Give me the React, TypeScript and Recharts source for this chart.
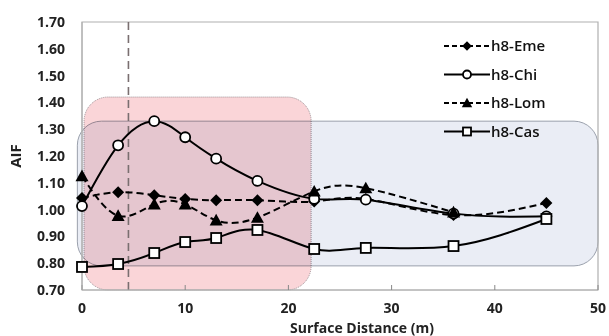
import {
  LineChart,
  Line,
  XAxis,
  YAxis,
  ReferenceArea,
  ReferenceLine,
} from "recharts"

const distances = [0, 3.5, 7, 10, 13, 17, 22.5, 27.5, 36, 45]
const emeValues = [1.043, 1.065, 1.054, 1.04, 1.035, 1.035, 1.03, 1.04, 0.98, 1.025]
const chiValues = [1.013, 1.24, 1.33, 1.27, 1.19, 1.107, 1.04, 1.037, 0.985, 0.975]
const lomValues = [1.125, 0.977, 1.02, 1.02, 0.96, 0.97, 1.068, 1.08, 0.99, null]
const casValues = [0.786, 0.797, 0.838, 0.879, 0.894, 0.924, 0.853, 0.857, 0.864, 0.965]

const xTicks = [0, 10, 20, 30, 40, 50]
const yTicks = [0.7, 0.8, 0.9, 1.0, 1.1, 1.2, 1.3, 1.4, 1.5, 1.6, 1.7]

const chartData = distances.map((d, i) => ({
  x: d,
  eme: emeValues[i],
  chi: chiValues[i],
  lom: lomValues[i],
  cas: casValues[i],
}))

type MarkerKind = "diamond" | "circle" | "triangle" | "square"

const series: { key: string; name: string; marker: MarkerKind; dashed: boolean }[] = [
  { key: "eme", name: "h8-Eme", marker: "diamond", dashed: true },
  { key: "chi", name: "h8-Chi", marker: "circle", dashed: false },
  { key: "lom", name: "h8-Lom", marker: "triangle", dashed: true },
  { key: "cas", name: "h8-Cas", marker: "square", dashed: false },
]

const FONT = "'Open Sans', 'Liberation Sans', sans-serif"

function Marker({ kind, cx, cy, s = 1 }: { kind: MarkerKind; cx: number; cy: number; s?: number }) {
  if (cx == null || cy == null || isNaN(cx) || isNaN(cy)) return null
  if (kind === "diamond") {
    const r = 6 * s
    return (
      <polygon
        points={`${cx},${cy - r} ${cx + r},${cy} ${cx},${cy + r} ${cx - r},${cy}`}
        fill="#000"
      />
    )
  }
  if (kind === "triangle") {
    const r = 6.5 * s
    return (
      <polygon
        points={`${cx},${cy - r} ${cx + r},${cy + r * 0.8} ${cx - r},${cy + r * 0.8}`}
        fill="#000"
      />
    )
  }
  if (kind === "circle") {
    return <circle cx={cx} cy={cy} r={5 * s} fill="#fff" stroke="#000" strokeWidth={1.8} />
  }
  const h = 5 * s
  return (
    <rect x={cx - h} y={cy - h} width={h * 2} height={h * 2} fill="#fff" stroke="#000" strokeWidth={1.8} />
  )
}

// legend drawn as an overlay so it doesn't eat plot width
function LegendBox() {
  return (
    <svg width={130} height={120} style={{ position: "absolute", left: 442, top: 36 }}>
      {series.map((s, i) => {
        const y = 10 + i * 28.5
        return (
          <g key={s.key}>
            <line
              x1={2}
              x2={48}
              y1={y}
              y2={y}
              stroke="#000"
              strokeWidth={2}
              strokeDasharray={s.dashed ? "5 3" : undefined}
            />
            <Marker kind={s.marker} cx={25} cy={y} s={0.8} />
            <text x={49} y={y + 5} fontSize={15} fontFamily={FONT} fontWeight={600} fill="#111">
              {s.name}
            </text>
          </g>
        )
      })}
    </svg>
  )
}

export default function App() {
  return (
    <div style={{ position: "absolute", left: 0, top: 0, width: 609, height: 336, background: "#fff" }}>
      <LineChart
        width={609}
        height={336}
        data={chartData}
        margin={{ top: 22, right: 11, left: 0, bottom: 0 }}
      >
        <ReferenceArea
          x1={0.2}
          x2={22.2}
          y1={0.7}
          y2={1.42}
          ifOverflow="visible"
          fill="#fad5d8"
          fillOpacity={1}
          stroke="#9c8f94"
          strokeWidth={1}
          strokeDasharray="1 1"
          radius={24}
        />
        <ReferenceArea
          x1={-0.45}
          x2={50}
          y1={0.79}
          y2={1.33}
          ifOverflow="visible"
          fill="#eaedf5"
          fillOpacity={1}
          stroke="#9aa0ac"
          strokeWidth={1}
          radius={24}
          style={{ mixBlendMode: "multiply" }}
        />
        <ReferenceArea
          x1={0}
          x2={50}
          y1={0.7}
          y2={1.7}
          fill="none"
          stroke="#b0b0b0"
          strokeWidth={1.2}
        />
        <ReferenceLine x={4.5} stroke="#7a6f70" strokeWidth={1.6} strokeDasharray="8 5" />
        <XAxis
          dataKey="x"
          type="number"
          domain={[0, 50]}
          ticks={xTicks}
          height={46}
          axisLine={{ stroke: "#b0b0b0" }}
          tickLine={{ stroke: "#888" }}
          tickSize={-5}
          tickMargin={18}
          tick={{ fontSize: 14, fontFamily: FONT, fontWeight: 700, fill: "#222" }}
          label={{
            value: "Surface Distance (m)",
            position: "insideBottom",
            offset: 3,
            dx: 22,
            style: { fontSize: 14, fontFamily: FONT, fontWeight: 700, fill: "#222" },
          }}
        />
        <YAxis
          type="number"
          domain={[0.7, 1.7]}
          ticks={yTicks}
          width={82}
          axisLine={{ stroke: "#b0b0b0" }}
          tickLine={false}
          tickSize={8}
          tickMargin={9}
          tickFormatter={(v: number) => v.toFixed(2)}
          tick={{ fontSize: 14, fontFamily: FONT, fontWeight: 700, fill: "#222" }}
          label={{
            value: "AIF",
            angle: -90,
            position: "insideLeft",
            offset: 16,
            style: { fontSize: 15, fontFamily: FONT, fontWeight: 700, fill: "#222", textAnchor: "middle" },
          }}
        />
        {series.map((s) => (
          <Line
            key={s.key}
            dataKey={s.key}
            name={s.name}
            type="natural"
            stroke="#000"
            strokeWidth={2}
            strokeDasharray={s.dashed ? "7 4" : undefined}
            isAnimationActive={false}
            connectNulls={false}
            dot={(p: any) => <Marker key={`${s.key}-${p.index}`} kind={s.marker} cx={p.cx} cy={p.cy} />}
            activeDot={false}
          />
        ))}
      </LineChart>
      <LegendBox />
    </div>
  )
}
